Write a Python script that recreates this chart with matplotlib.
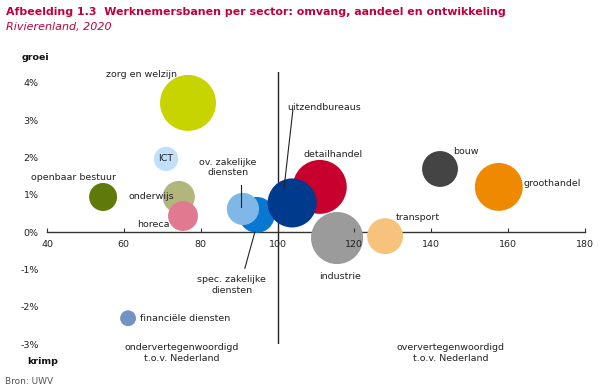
import matplotlib
matplotlib.use("Agg")
import matplotlib.pyplot as plt

sectors = ["zorg en welzijn", "ICT", "openbaar bestuur", "onderwijs", "horeca",
           "spec. zakelijke diensten", "ov. zakelijke diensten", "detailhandel",
           "uitzendbureaus", "industrie", "transport", "bouw", "groothandel",
           "financiële diensten"]
aandeel = [76.7, 71.0, 54.6, 74.3, 75.4, 94.6, 91.0, 111.0, 103.8, 115.5, 128.0, 142.3, 157.6, 61.1]
groei = [3.46, 1.96, 0.94, 0.94, 0.43, 0.46, 0.62, 1.21, 0.78, -0.16, -0.11, 1.69, 1.21, -2.31]
omvang = [11.2, 2.1, 2.8, 3.7, 3.2, 4.6, 3.7, 10.4, 8.6, 9.7, 4.6, 4.6, 8.2, 0.9]
colors = ["#c8d400", "#bfe0f8", "#5e7a0a", "#b3b67c", "#e17a90", "#0a78d2", "#7fb8e6",
          "#c8002d", "#003a8c", "#9b9b9b", "#f6c27c", "#444444", "#ef8a00", "#7393c4"]

xticks = [40, 60, 80, 100, 120, 140, 160, 180]
yticks = [-3, -2, -1, 0, 1, 2, 3, 4]
ytick_labels = ["-3%", "-2%", "-1%", "0%", "1%", "2%", "3%", "4%"]

fig = plt.figure(figsize=(6.05, 3.91), dpi=100)
ax = fig.add_axes([0.0777, 0.1202, 0.889, 0.6967])
ax.set_xlim(40, 180)
ax.set_ylim(-3, 4.3)

txt = "#222222"
ax.scatter(aandeel, groei, s=[v * 145 for v in omvang], c=colors, linewidths=0, zorder=3)

for s in ["top", "right", "left"]:
    ax.spines[s].set_visible(False)
ax.spines["bottom"].set_position(("data", 0))
ax.spines["bottom"].set_color("#333333")
ax.spines["bottom"].set_linewidth(1.0)
ax.spines["bottom"].set_zorder(1)
ax.plot([100, 100], [-3, 4.3], color="#222222", lw=1.0, zorder=1)

ax.set_xticks(xticks)
ax.set_xticklabels([str(t) for t in xticks])
ax.set_yticks(yticks)
ax.set_yticklabels(ytick_labels)
ax.tick_params(axis="x", direction="in", length=3, width=0.8, color="#333333",
               labelsize=6.8, labelcolor=txt, pad=6)
ax.tick_params(axis="y", length=0, labelsize=6.8, labelcolor=txt, pad=6)
ax.xaxis.set_zorder(5)

fs = 6.8
def lab(x, y, s, ha="center"):
    ax.text(x, y, s, ha=ha, va="center", fontsize=fs, color=txt, zorder=6, linespacing=1.25)

lab(64.7, 4.21, "zorg en welzijn")
lab(71.0, 1.98, "ICT")
lab(46.8, 1.47, "openbaar bestuur")
lab(67.1, 0.94, "onderwijs")
lab(67.6, 0.19, "horeca")
lab(87.1, 1.73, "ov. zakelijke\ndiensten")
lab(88.1, -1.42, "spec. zakelijke\ndiensten")
lab(112.1, 3.35, "uitzendbureaus")
lab(114.4, 2.09, "detailhandel")
lab(116.2, -1.2, "industrie")
lab(136.5, 0.38, "transport")
lab(149.0, 2.17, "bouw")
lab(171.4, 1.29, "groothandel")
lab(64.2, -2.31, "financiële diensten", ha="left")
lab(75.1, -3.24, "ondervertegenwoordigd\nt.o.v. Nederland")
lab(145.1, -3.24, "oververtegenwoordigd\nt.o.v. Nederland")

# leader lines
ax.plot([90.5, 90.5], [1.26, 0.67], color="#222222", lw=0.8, zorder=6)
ax.plot([94.1, 91.5], [0.0, -0.97], color="#222222", lw=0.8, zorder=6)
ax.plot([104.0, 101.7], [3.27, 1.18], color="#222222", lw=0.8, zorder=6)

fig.text(22 / 605, 1 - 57 / 391, "groei", fontsize=6.8, fontweight="bold", color="#111111",
         ha="left", va="center")
fig.text(27 / 605, 1 - 361 / 391, "krimp", fontsize=6.8, fontweight="bold", color="#111111",
         ha="left", va="center")
fig.text(5 / 605, 1 - 381 / 391, "Bron: UWV", fontsize=6.5, color="#555555",
         ha="left", va="center")
fig.text(6 / 605, 1 - 12 / 391,
         "Afbeelding 1.3  Werknemersbanen per sector: omvang, aandeel en ontwikkeling",
         fontsize=7.9, fontweight="bold", color="#c0003c", ha="left", va="center")
fig.text(6 / 605, 1 - 27 / 391, "Rivierenland, 2020", fontsize=8, style="italic",
         color="#c0003c", ha="left", va="center")

fig.savefig("out.png", dpi=100)
